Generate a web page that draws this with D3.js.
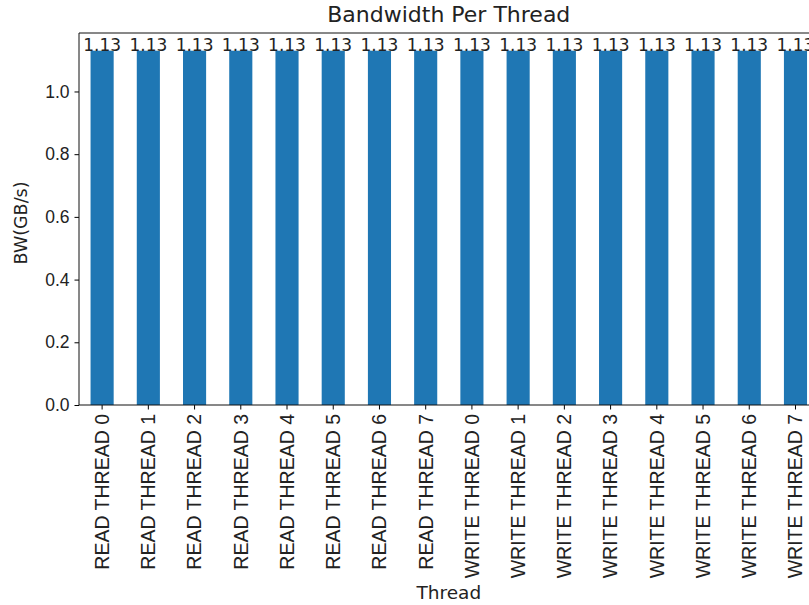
<!DOCTYPE html>
<html>
<head>
<meta charset="utf-8">
<script src="https://cdn.jsdelivr.net/npm/d3@7"></script>
<style>
    body { margin: 0; background: #fff; }
    svg { display: block; font-family: "DejaVu Sans", sans-serif; }
</style>
</head>
<body>
<svg id="chart" width="809" height="605"></svg>
<script>
// chart data
const threads = [
    "READ THREAD 0", "READ THREAD 1", "READ THREAD 2", "READ THREAD 3",
    "READ THREAD 4", "READ THREAD 5", "READ THREAD 6", "READ THREAD 7",
    "WRITE THREAD 0", "WRITE THREAD 1", "WRITE THREAD 2", "WRITE THREAD 3",
    "WRITE THREAD 4", "WRITE THREAD 5", "WRITE THREAD 6", "WRITE THREAD 7"
];
const bandwidth = [1.13, 1.13, 1.13, 1.13, 1.13, 1.13, 1.13, 1.13,
                   1.13, 1.13, 1.13, 1.13, 1.13, 1.13, 1.13, 1.13];
const yTicks = [0.0, 0.2, 0.4, 0.6, 0.8, 1.0];

const chartTitle = "Bandwidth Per Thread";
const xTitle = "Thread";
const yTitle = "BW(GB/s)";

// layout (the right part of the plot is cut off by the picture edge)
const margin = {left: 79, top: 33, bottom: 405, right: 818.6};
const fontSize = 17.5;

const svg = d3.select("#chart");

const x = d3.scaleBand()
    .domain(threads)
    .range([margin.left, margin.right])
    .paddingInner(0.5)
    .paddingOuter(0.25);

const y = d3.scaleLinear()
    .domain([0, d3.max(bandwidth) * 1.05])
    .range([margin.bottom, margin.top]);

const data = threads.map((t, i) => ({thread: t, value: bandwidth[i]}));

// bars
svg.append("g")
    .selectAll("rect")
    .data(data)
    .join("rect")
    .attr("x", d => x(d.thread))
    .attr("y", d => y(d.value))
    .attr("width", x.bandwidth())
    .attr("height", d => y(0) - y(d.value))
    .attr("fill", "#1f77b4");

// value labels
svg.append("g")
    .selectAll("text")
    .data(data)
    .join("text")
    .attr("x", d => x(d.thread) + x.bandwidth() / 2)
    .attr("y", d => y(d.value))
    .attr("text-anchor", "middle")
    .attr("font-size", 17)
    .attr("fill", "#222")
    .text(d => d.value.toFixed(2));

// axes
const xAxis = svg.append("g")
    .attr("transform", `translate(0,${margin.bottom})`)
    .call(d3.axisBottom(x).tickSize(4.5).tickPadding(5));
xAxis.select(".domain").remove();
xAxis.selectAll("text")
    .attr("font-size", 19.5)
    .attr("fill", "#222")
    .attr("transform", "rotate(-90)")
    .attr("text-anchor", "end")
    .attr("x", -9)
    .attr("y", 0)
    .attr("dy", "0.35em");

const yAxis = svg.append("g")
    .attr("transform", `translate(${margin.left},0)`)
    .call(d3.axisLeft(y).tickValues(yTicks).tickFormat(d3.format(".1f")).tickSize(4.5).tickPadding(5));
yAxis.select(".domain").remove();
yAxis.selectAll("text")
    .attr("font-size", fontSize)
    .attr("fill", "#222");

// spines
const spine = svg.append("g").attr("stroke", "#111").attr("stroke-width", 1).attr("fill", "none");
spine.append("line")
    .attr("x1", margin.left).attr("x2", margin.left)
    .attr("y1", margin.top).attr("y2", margin.bottom);
spine.append("line")
    .attr("x1", margin.left).attr("x2", margin.right)
    .attr("y1", margin.bottom).attr("y2", margin.bottom);
spine.append("line")
    .attr("x1", margin.left).attr("x2", margin.right)
    .attr("y1", margin.top).attr("y2", margin.top);
spine.append("line")
    .attr("x1", margin.right).attr("x2", margin.right)
    .attr("y1", margin.top).attr("y2", margin.bottom);

// titles
svg.append("text")
    .attr("x", (margin.left + margin.right) / 2)
    .attr("y", 22)
    .attr("text-anchor", "middle")
    .attr("font-size", 22)
    .attr("fill", "#222")
    .text(chartTitle);

svg.append("text")
    .attr("x", (margin.left + margin.right) / 2)
    .attr("y", 599)
    .attr("text-anchor", "middle")
    .attr("font-size", 18.5)
    .attr("fill", "#222")
    .text(xTitle);

svg.append("text")
    .attr("transform", `translate(27,223) rotate(-90)`)
    .attr("text-anchor", "middle")
    .attr("font-size", fontSize)
    .attr("fill", "#222")
    .text(yTitle);
</script>
</body>
</html>
